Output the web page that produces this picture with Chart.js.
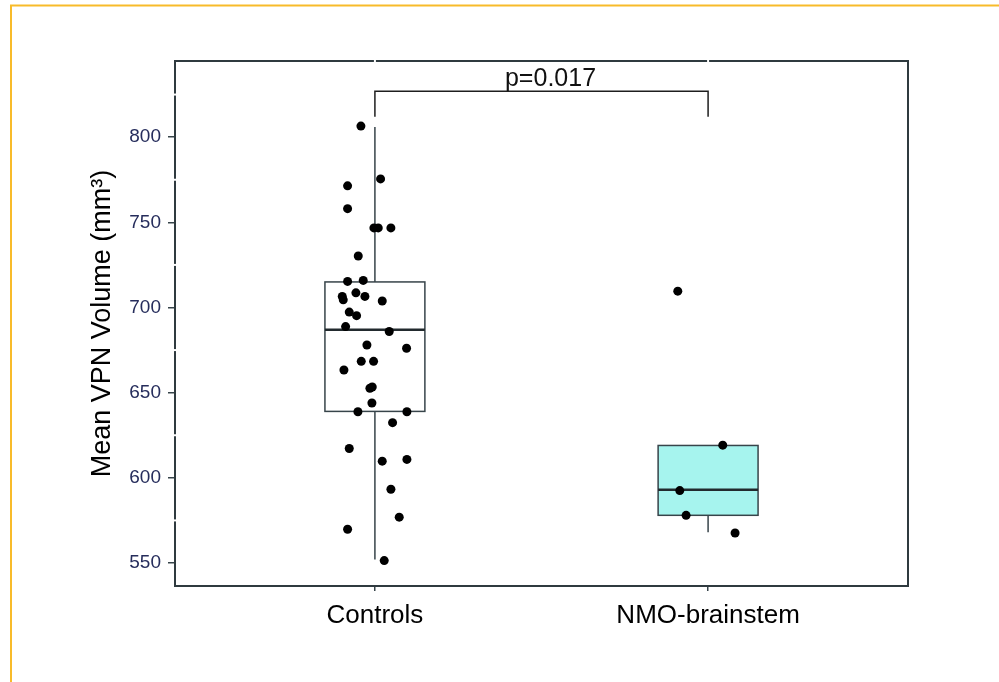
<!DOCTYPE html>
<html>
<head>
<meta charset="utf-8">
<title>Mean VPN Volume</title>
<script src="https://cdn.jsdelivr.net/npm/chart.js@4.4.1/dist/chart.umd.min.js"></script>
<style>
  html, body { margin: 0; padding: 0; background: #fff; }
  canvas { display: block; }
</style>
</head>
<body>
<canvas id="chart" width="999" height="682"></canvas>
<script>
const groups = ['Controls', 'NMO-brainstem'];
const yTicks = [550, 600, 650, 700, 750, 800];

// jittered x (1 = Controls, 2 = NMO-brainstem) and volume of each subject
const controlsX = [0.958, 1.017, 0.918, 0.918, 0.997, 1.010, 1.048, 0.950, 0.918, 0.965,
                   0.943, 0.902, 0.905, 0.970, 1.022, 0.923, 0.945, 0.912, 1.043, 0.976,
                   1.095, 0.959, 0.996, 0.907, 0.985, 0.992, 0.991, 0.949, 1.096, 1.053,
                   0.923, 1.022, 1.096, 1.048, 1.073, 0.918, 1.028];
const controlsY = [806.5, 775.5, 771.4, 758.0, 746.7, 746.7, 746.7, 730.2, 715.3, 715.9,
                   708.6, 706.5, 704.5, 706.5, 703.8, 697.3, 695.2, 688.8, 685.9, 678.0,
                   676.1, 668.4, 668.4, 663.3, 652.6, 653.3, 643.9, 638.8, 638.8, 632.4,
                   617.2, 609.8, 610.8, 593.3, 576.9, 569.8, 551.4];
const nmoX = [1.909, 2.044, 1.915, 1.934, 2.081];
const nmoY = [709.6, 619.2, 592.5, 578.0, 567.6];

// box summary per group
const whiskerLow = [552, 568];
const q1 = [639, 578];
const median = [687, 593];
const q3 = [715, 619];
const whiskerHigh = [806, 619];

// significance bracket
const pText = 'p=0.017';
const bracketY = 827;
const bracketFoot = 812;

const boxWidth = 0.3;
const boxFill = ['rgba(255,255,255,0)', '#a6f4ee'];
const lineColor = '#37444a';
const fontFamily = '"Liberation Sans", Arial, sans-serif';

function toPoints(xs, ys) {
    return xs.map((v, i) => ({ x: v, y: ys[i] }));
}

const boxPlugin = {
    id: 'boxes',
    beforeDatasetsDraw(chart) {
        const { ctx, scales: { x, y } } = chart;
        ctx.save();
        groups.forEach((g, i) => {
            const cx = x.getPixelForValue(i + 1);
            const left = x.getPixelForValue(i + 1 - boxWidth / 2);
            const right = x.getPixelForValue(i + 1 + boxWidth / 2);
            const top = y.getPixelForValue(q3[i]);
            const bot = y.getPixelForValue(q1[i]);

            ctx.fillStyle = boxFill[i];
            ctx.fillRect(left, top, right - left, bot - top);

            ctx.strokeStyle = lineColor;
            ctx.lineWidth = 1.5;
            ctx.beginPath();
            ctx.moveTo(cx, top);
            ctx.lineTo(cx, y.getPixelForValue(whiskerHigh[i]));
            ctx.moveTo(cx, bot);
            ctx.lineTo(cx, y.getPixelForValue(whiskerLow[i]));
            ctx.stroke();
            ctx.strokeRect(left, top, right - left, bot - top);

            const my = y.getPixelForValue(median[i]);
            ctx.strokeStyle = '#222a2e';
            ctx.lineWidth = 2.5;
            ctx.beginPath();
            ctx.moveTo(left, my);
            ctx.lineTo(right, my);
            ctx.stroke();
        });
        ctx.restore();
    },
    afterDatasetsDraw(chart) {
        const { ctx, chartArea: a, scales: { x, y } } = chart;
        ctx.save();

        // panel frame
        ctx.strokeStyle = '#2f3a3f';
        ctx.lineWidth = 2;
        ctx.strokeRect(a.left, a.top, a.right - a.left, a.bottom - a.top);

        // little white breaks where the minor grid meets the frame
        ctx.fillStyle = '#fff';
        [1, 2].forEach(v => {
            const px = x.getPixelForValue(v);
            ctx.fillRect(px - 1, a.top - 2, 2, 4);
        });
        for (let k = 0; k < yTicks.length; k++) {
            const v = yTicks[k] + 25;
            if (v < y.max) {
                const py = y.getPixelForValue(v);
                ctx.fillRect(a.left - 2, py - 1, 4, 2);
            }
        }

        // bracket
        const x1 = x.getPixelForValue(1);
        const x2 = x.getPixelForValue(2);
        const by = y.getPixelForValue(bracketY);
        const bf = y.getPixelForValue(bracketFoot);
        ctx.strokeStyle = '#1e1e1e';
        ctx.lineWidth = 1.5;
        ctx.beginPath();
        ctx.moveTo(x1, bf);
        ctx.lineTo(x1, by);
        ctx.lineTo(x2, by);
        ctx.lineTo(x2, bf);
        ctx.stroke();

        ctx.fillStyle = '#111';
        ctx.font = '25px ' + fontFamily;
        ctx.textAlign = 'center';
        ctx.textBaseline = 'alphabetic';
        ctx.fillText(pText, (x1 + x2) / 2 + 9, by - 5);

        // page frame
        ctx.strokeStyle = '#f8bb2a';
        ctx.lineWidth = 2;
        ctx.beginPath();
        ctx.moveTo(11, 682);
        ctx.lineTo(11, 5.5);
        ctx.lineTo(999, 5.5);
        ctx.stroke();

        ctx.restore();
    }
};

const canvas = document.getElementById('chart');

const chart = new Chart(canvas, {
    type: 'scatter',
    data: {
        datasets: [
            {
                label: groups[0],
                data: toPoints(controlsX, controlsY),
                backgroundColor: '#000',
                borderWidth: 0,
                pointRadius: 4.5
            },
            {
                label: groups[1],
                data: toPoints(nmoX, nmoY),
                backgroundColor: '#000',
                borderWidth: 0,
                pointRadius: 4.5
            }
        ]
    },
    options: {
        responsive: false,
        animation: false,
        layout: { padding: { top: 61, right: 91, left: 0, bottom: 0 } },
        plugins: {
            legend: { display: false },
            tooltip: { enabled: false }
        },
        scales: {
            x: {
                type: 'linear',
                min: 0.4,
                max: 2.6,
                afterBuildTicks: (scale) => {
                    scale.ticks = [{ value: 1 }, { value: 2 }];
                },
                afterFit: (scale) => { scale.height = 96; },
                ticks: {
                    autoSkip: false,
                    maxRotation: 0,
                    padding: 9,
                    color: '#000',
                    font: { family: fontFamily, size: 26 },
                    callback: (value) => groups[value - 1]
                },
                grid: {
                    drawOnChartArea: false,
                    drawTicks: true,
                    tickLength: 5,
                    color: lineColor,
                    lineWidth: 1.5
                },
                border: { display: false }
            },
            y: {
                type: 'linear',
                min: 536.5,
                max: 844.7,
                afterBuildTicks: (scale) => {
                    scale.ticks = yTicks.map(v => ({ value: v }));
                },
                afterFit: (scale) => { scale.width = 175; },
                ticks: {
                    padding: 7,
                    color: '#262d5c',
                    font: { family: fontFamily, size: 19 }
                },
                grid: {
                    drawOnChartArea: false,
                    drawTicks: true,
                    tickLength: 7,
                    color: lineColor,
                    lineWidth: 1.5
                },
                border: { display: false },
                title: {
                    display: true,
                    text: 'Mean VPN Volume (mm³)',
                    color: '#000',
                    padding: { top: 86, bottom: 0 },
                    font: { family: fontFamily, size: 27 }
                }
            }
        }
    },
    plugins: [boxPlugin]
});
</script>
</body>
</html>
